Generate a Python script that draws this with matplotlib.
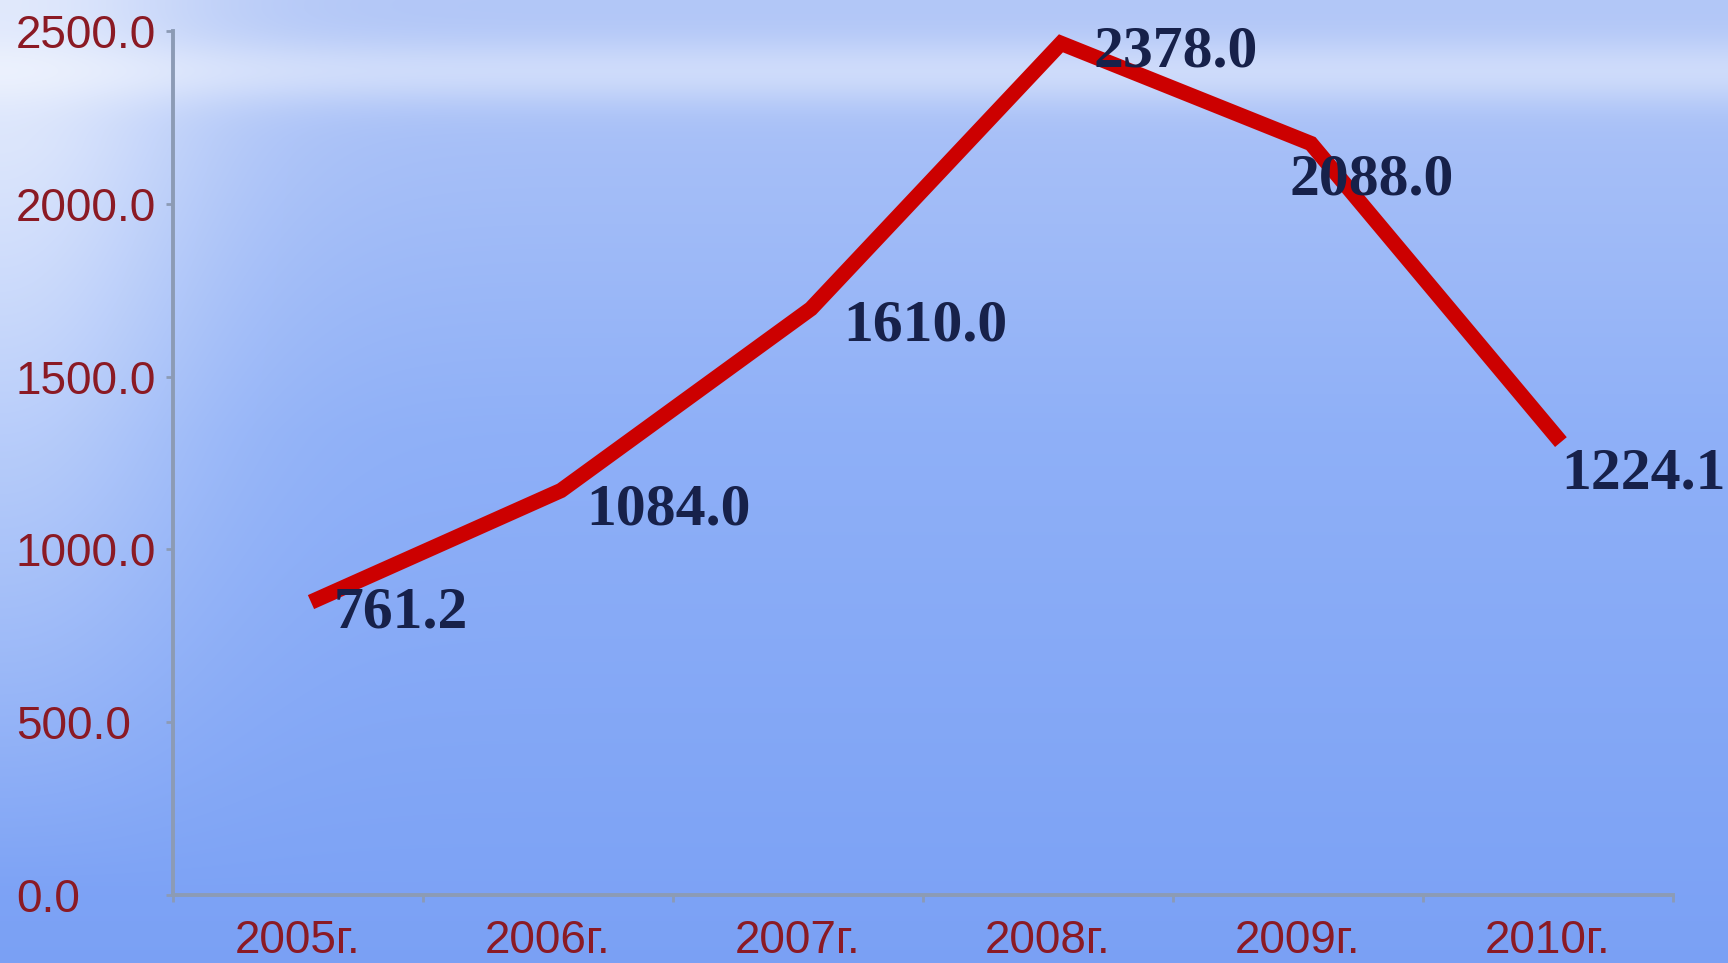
import numpy as np
import matplotlib
matplotlib.use('Agg')
import matplotlib.pyplot as plt
import matplotlib.transforms as mtransforms

# Данные
years = ['2005г.', '2006г.', '2007г.', '2008г.', '2009г.', '2010г.']
values = [761.2, 1084.0, 1610.0, 2378.0, 2088.0, 1224.1]
y_ticks = [0, 500, 1000, 1500, 2000, 2500]

# смещения подписей (в пунктах)
label_offsets = [(26, 13), (28, 7), (33, 9), (33, 15), (-6, -5), (10, -2)]

W, H = 1728, 963
fig = plt.figure(figsize=(W / 100, H / 100), dpi=100)

# Фон: небо / море
yy = np.linspace(0, 1, H)[:, None]
xx = np.linspace(0, 1, W)[None, :]
top = np.array([0.70, 0.78, 0.97])
mid = np.array([0.56, 0.69, 0.97])
bot = np.array([0.48, 0.63, 0.96])
t = np.clip(yy / 0.45, 0, 1)
col = top * (1 - t[..., None]) + mid * t[..., None]
t2 = np.clip((yy - 0.45) / 0.55, 0, 1)
col = col * (1 - t2[..., None]) + bot * t2[..., None]
col = np.broadcast_to(col, (H, W, 3)).copy()
# светлая полоса у горизонта
band = np.exp(-((yy - 0.075) / 0.035) ** 2) * 0.4
col = col + (1 - col) * band[..., None]
# светлый левый край
glow = np.exp(-(xx / 0.12) ** 2) * np.clip(1.2 - yy * 1.3, 0, 1) * 0.6
col = col + (1 - col) * glow[..., None]
bg = fig.add_axes([0, 0, 1, 1])
bg.imshow(np.clip(col, 0, 1), aspect='auto', extent=[0, 1, 0, 1])
bg.axis('off')

ax = fig.add_axes([0.100, 0.0706, 0.868, 0.8972])
ax.patch.set_alpha(0)

x = np.arange(len(years))
shift = mtransforms.ScaledTranslation(9.5 / 72, 21.5 / 72, fig.dpi_scale_trans)
ax.plot(x, values, color='#cc0000', linewidth=11, solid_joinstyle='miter',
        solid_capstyle='butt', transform=ax.transData + shift, zorder=3)

for xi, v, off in zip(x, values, label_offsets):
    ax.annotate(f'{v:.1f}', (xi, v), xytext=off, textcoords='offset points',
                ha='left', va='center', fontsize=43, fontweight='bold',
                family='Liberation Serif', color='#17214a', zorder=4)

ax.set_xlim(-0.5, 5.5)
ax.set_ylim(0, 2500)
ax.set_xticks(np.arange(-0.5, 6, 1))
ax.set_xticklabels([])
ax.set_xticks(x, minor=True)
ax.set_xticklabels(years, minor=True)
ax.tick_params(axis='x', which='minor', length=0, pad=17)
ax.tick_params(axis='x', which='major', length=5, width=2, color='#8c9bb5', direction='out')
ax.set_yticks(y_ticks)
ax.set_yticklabels([f'{v:.1f}' for v in y_ticks])
ax.tick_params(axis='y', length=5, width=2, color='#8c9bb5', pad=108)
for lab in ax.get_xticklabels(minor=True) + ax.get_yticklabels():
    lab.set_family('Liberation Sans')
    lab.set_fontsize(33)
    lab.set_color('#8b1a24')
for lab in ax.get_yticklabels():
    lab.set_horizontalalignment('left')

for s in ['top', 'right']:
    ax.spines[s].set_visible(False)
for s in ['left', 'bottom']:
    ax.spines[s].set_color('#8c9bb5')
    ax.spines[s].set_linewidth(2.8)

fig.savefig('out.png', dpi=100)
